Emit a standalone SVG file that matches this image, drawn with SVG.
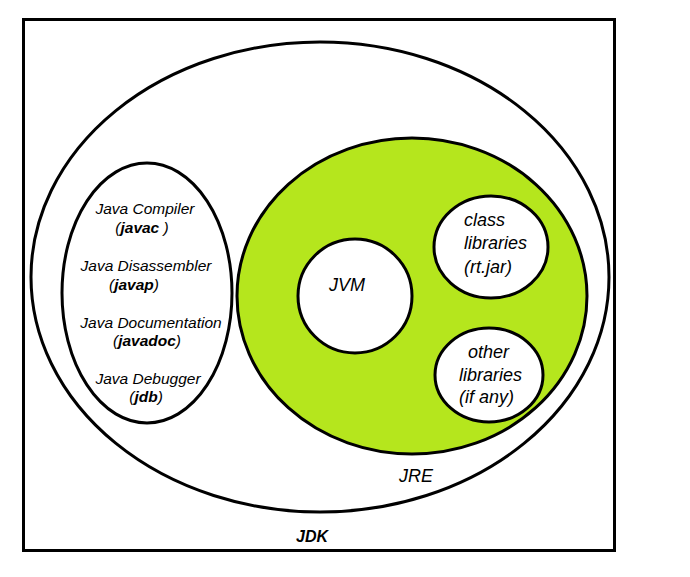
<svg xmlns="http://www.w3.org/2000/svg" width="690" height="577" viewBox="0 0 690 577">
<style>
.ln{fill:#fff;stroke:#000;stroke-width:3}
.t{font-family:"Liberation Sans",Arial,sans-serif;font-style:italic;fill:#000}
.s{font-size:15.5px}
.m{font-size:18px}
.b{font-weight:bold}
</style>
<rect width="690" height="577" fill="#fff"/>
<g id="jdk">
<rect class="ln" x="23.5" y="19.5" width="591" height="531"/>
<ellipse class="ln" cx="320" cy="277" rx="289" ry="235"/>
<text class="t b" x="312" y="542" font-size="16" text-anchor="middle">JDK</text>
</g>
<g id="tools">
<ellipse class="ln" cx="147" cy="293" rx="85" ry="130"/>
<g class="t s" text-anchor="middle">
<text x="145" y="214">Java Compiler</text>
<text x="142" y="233">(<tspan class="b">javac</tspan> )</text>
<text x="146" y="271">Java Disassembler</text>
<text x="134" y="290">(<tspan class="b">javap</tspan>)</text>
<text x="151" y="328">Java Documentation</text>
<text x="147" y="346">(<tspan class="b">javadoc</tspan>)</text>
<text x="148" y="384">Java Debugger</text>
<text x="146" y="402">(<tspan class="b">jdb</tspan>)</text>
</g>
</g>
<g id="jre">
<ellipse cx="412" cy="296" rx="175" ry="158" fill="#b5e61d" stroke="#000" stroke-width="3"/>
<text class="t m" x="416" y="482" text-anchor="middle">JRE</text>
</g>
<g id="jvm">
<circle class="ln" cx="355" cy="296" r="57"/>
<text class="t m" x="347" y="291" text-anchor="middle">JVM</text>
</g>
<g id="classlib">
<ellipse class="ln" cx="491" cy="247" rx="57" ry="51"/>
<g class="t m">
<text x="464" y="226">class</text>
<text x="464" y="249">libraries</text>
<text x="464" y="273">(rt.jar)</text>
</g>
</g>
<g id="otherlib">
<ellipse class="ln" cx="489" cy="375" rx="54" ry="47"/>
<g class="t m">
<text x="468" y="358">other</text>
<text x="459" y="381">libraries</text>
<text x="459" y="403">(if any)</text>
</g>
</g>
<g id="connectors"/>
</svg>
